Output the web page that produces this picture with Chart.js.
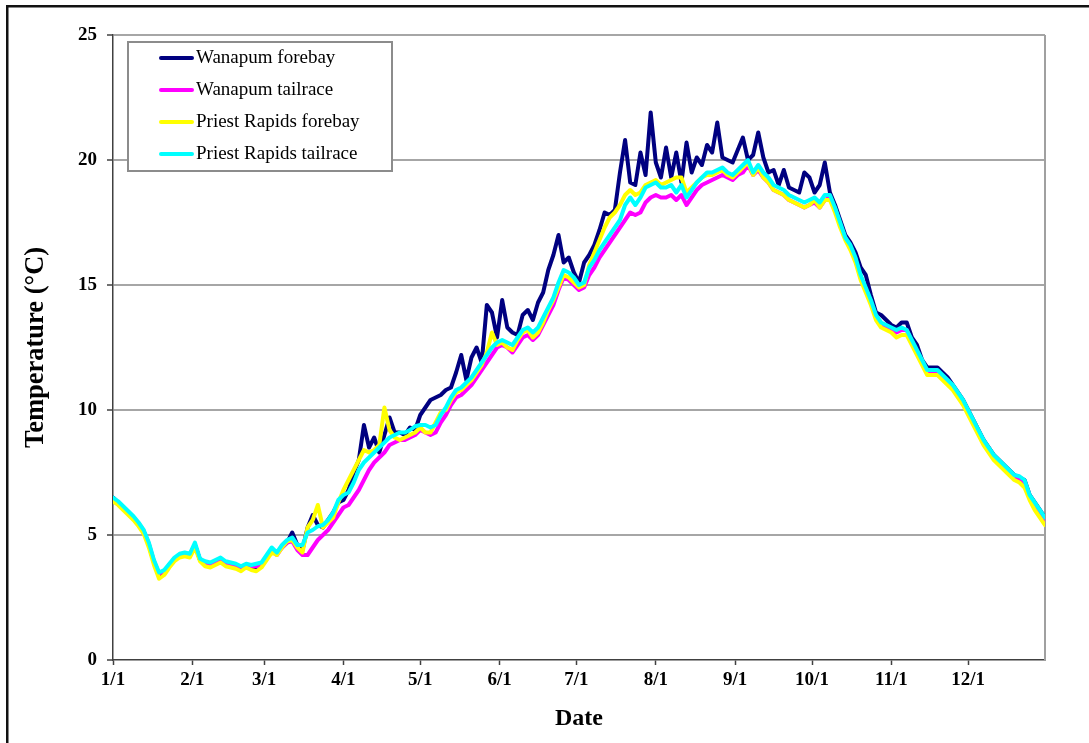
<!DOCTYPE html>
<html>
<head>
<meta charset="utf-8">
<script src="https://cdn.jsdelivr.net/npm/chart.js@4.4.0/dist/chart.umd.min.js"></script>
<style>
  html, body { margin: 0; padding: 0; background: #ffffff; }
  #wrap { position: relative; width: 1089px; height: 743px; }
</style>
</head>
<body>
<div id="wrap"><canvas id="chart" width="1089" height="743"></canvas></div>
<script>
// Daily river temperatures, sampled every second day of the year (day 0 = 1/1).
const DAY_STEP = 2;
const MONTH_START_DAYS = [0, 31, 59, 90, 120, 151, 181, 212, 243, 273, 304, 334];
const MONTH_LABELS = ['1/1', '2/1', '3/1', '4/1', '5/1', '6/1', '7/1', '8/1', '9/1', '10/1', '11/1', '12/1'];
const Y_TICKS = [0, 5, 10, 15, 20, 25];
const SERIES_NAMES = ['Wanapum forebay', 'Wanapum tailrace', 'Priest Rapids forebay', 'Priest Rapids tailrace'];
const SERIES_COLORS = ['#000080', '#ff00ff', '#ffff00', '#00ffff'];

const wanapumForebay = [
  6.5, 6.3, 6.1, 5.9, 5.7, 5.45, 5.15, 4.6, 3.9, 3.35,
  3.5, 3.8, 4.05, 4.2, 4.25, 4.2, 4.6, 4.0, 3.8, 3.75,
  3.9, 4.0, 3.85, 3.8, 3.75, 3.65, 3.8, 3.7, 3.7, 3.8,
  4.1, 4.4, 4.3, 4.5, 4.7, 5.1, 4.6, 4.4, 5.3, 5.8,
  5.4, 5.3, 5.6, 5.9, 6.3, 6.4, 6.8, 7.5, 8.0, 9.4,
  8.5, 8.9, 8.3, 9.0, 9.7, 9.1, 9.1, 9.0, 9.3, 9.2,
  9.8, 10.1, 10.4, 10.5, 10.6, 10.8, 10.9, 11.5, 12.2, 11.2,
  12.1, 12.5, 11.9, 14.2, 13.9, 12.9, 14.4, 13.3, 13.1, 13.0,
  13.8, 14.0, 13.6, 14.3, 14.7, 15.6, 16.2, 17.0, 15.9, 16.1,
  15.5, 15.1, 15.9, 16.2, 16.6, 17.2, 17.9, 17.8, 18.0, 19.5,
  20.8, 19.1, 19.0, 20.3, 19.4, 21.9, 19.9, 19.3, 20.5, 19.3,
  20.3, 19.1, 20.7, 19.5, 20.1, 19.8, 20.6, 20.3, 21.5, 20.1,
  20.0, 19.9, 20.4, 20.9, 20.0, 20.2, 21.1, 20.1, 19.5, 19.6,
  19.0, 19.6, 18.9, 18.8, 18.7, 19.5, 19.3, 18.7, 19.0, 19.9,
  18.7, 18.2, 17.6, 17.0, 16.7, 16.3, 15.7, 15.4, 14.6, 13.9,
  13.8, 13.6, 13.4, 13.3, 13.5, 13.5, 12.9, 12.6, 12.0, 11.7,
  11.7, 11.7, 11.5, 11.3, 11.0, 10.7, 10.4, 10.0, 9.6, 9.2,
  8.8, 8.5, 8.2, 8.0, 7.8, 7.6, 7.4, 7.3, 7.2, 6.6,
  6.3, 6.0, 5.7
];

const wanapumTailrace = [
  6.45, 6.3, 6.1, 5.9, 5.7, 5.45, 5.15, 4.65, 3.95, 3.45,
  3.55, 3.8, 4.05, 4.2, 4.2, 4.2, 4.6, 4.0, 3.85, 3.8,
  3.9, 4.0, 3.85, 3.8, 3.75, 3.65, 3.75, 3.75, 3.75, 3.8,
  4.1, 4.4, 4.2, 4.5, 4.7, 4.75, 4.4, 4.2, 4.2, 4.5,
  4.8, 5.0, 5.2, 5.5, 5.8, 6.1, 6.2, 6.5, 6.8, 7.2,
  7.6, 7.9, 8.1, 8.3, 8.6, 8.7, 8.8, 8.8, 8.9, 9.0,
  9.2, 9.1, 9.0, 9.1, 9.5, 9.8, 10.2, 10.5, 10.6, 10.8,
  11.0, 11.3, 11.6, 11.9, 12.2, 12.5, 12.6, 12.5, 12.3, 12.6,
  12.9, 13.0, 12.8, 13.0, 13.4, 13.8, 14.2, 14.8, 15.3, 15.2,
  15.0, 14.8, 14.9, 15.4, 15.7, 16.1, 16.4, 16.7, 17.0, 17.3,
  17.6, 17.9, 17.8, 17.9, 18.3, 18.5, 18.6, 18.5, 18.5, 18.6,
  18.4, 18.6, 18.2, 18.5, 18.8, 19.0, 19.1, 19.2, 19.3, 19.4,
  19.3, 19.2, 19.4, 19.5, 19.8, 19.4, 19.6, 19.3, 19.1, 18.8,
  18.7, 18.6, 18.4, 18.3, 18.2, 18.1, 18.2, 18.3, 18.1, 18.4,
  18.5, 18.0, 17.4, 16.9, 16.5, 16.0, 15.3, 14.8, 14.3, 13.7,
  13.4, 13.3, 13.2, 13.1, 13.2, 13.2, 12.7, 12.3, 11.9, 11.5,
  11.5, 11.5, 11.3, 11.1, 10.9, 10.6, 10.3, 9.9, 9.5, 9.1,
  8.7, 8.4, 8.1, 7.9, 7.7, 7.5, 7.3, 7.25, 7.1, 6.5,
  6.2, 5.9, 5.6
];

const priestRapidsForebay = [
  6.35, 6.2, 6.0, 5.8, 5.6, 5.35, 5.05, 4.5, 3.8, 3.25,
  3.4, 3.7, 3.95, 4.1, 4.15, 4.1, 4.5, 3.95, 3.75, 3.7,
  3.8, 3.9, 3.75, 3.7, 3.65, 3.55, 3.7, 3.6, 3.55, 3.7,
  4.0, 4.3, 4.2, 4.5, 4.75, 4.8, 4.5, 4.3, 5.3, 5.6,
  6.2, 5.3, 5.5, 5.7, 6.3, 6.8, 7.2, 7.6, 8.0, 8.4,
  8.3, 8.4, 8.6, 10.1, 9.2, 8.9, 8.8, 8.9, 9.0, 9.1,
  9.3, 9.1, 9.1, 9.5, 9.9, 10.0, 10.4, 10.7, 10.8, 11.0,
  11.2, 11.5, 11.8, 12.3, 13.1, 12.6, 12.7, 12.5, 12.4, 12.8,
  13.1, 13.2, 12.9, 13.1, 13.5, 14.0, 14.4, 14.9, 15.4, 15.3,
  15.1, 14.9, 15.0, 15.8, 16.3, 16.8, 17.3, 17.7, 17.9, 18.2,
  18.6, 18.8, 18.6, 18.7, 19.0, 19.1, 19.2, 19.0, 19.1, 19.2,
  19.3, 19.3, 18.7, 18.9, 19.1, 19.3, 19.4, 19.4, 19.5, 19.6,
  19.4, 19.3, 19.5, 19.7, 19.9, 19.4, 19.7, 19.3, 19.1, 18.8,
  18.7, 18.6, 18.4, 18.3, 18.2, 18.1, 18.2, 18.4, 18.1, 18.4,
  18.4, 17.9, 17.3, 16.8, 16.4, 15.9, 15.2, 14.7, 14.2, 13.6,
  13.3, 13.2, 13.1, 12.9, 13.0, 13.0, 12.6, 12.2, 11.8, 11.4,
  11.4, 11.4, 11.2, 11.0, 10.8, 10.5, 10.2, 9.8, 9.4, 9.0,
  8.6, 8.3, 8.0, 7.8, 7.6, 7.4, 7.2, 7.1, 6.9, 6.4,
  6.0, 5.7, 5.4
];

const priestRapidsTailrace = [
  6.5, 6.35, 6.15, 5.95, 5.75, 5.5, 5.2, 4.7, 4.0, 3.5,
  3.6, 3.85, 4.1, 4.25, 4.3, 4.25, 4.7, 4.05, 3.95, 3.9,
  4.0, 4.1, 3.95, 3.9, 3.85, 3.75, 3.85, 3.8, 3.85, 3.9,
  4.2, 4.5, 4.3, 4.6, 4.8, 4.9, 4.6, 4.6, 5.1, 5.2,
  5.35, 5.4, 5.6, 5.9, 6.4, 6.6, 6.7, 7.1, 7.6, 7.9,
  8.1, 8.3, 8.5, 8.7, 8.9, 9.0, 9.1, 9.1, 9.2, 9.35,
  9.4, 9.4, 9.3, 9.4, 9.8, 10.1, 10.5, 10.8, 10.9, 11.1,
  11.3, 11.6, 11.9, 12.2, 12.5, 12.7, 12.8, 12.7, 12.6, 12.9,
  13.2, 13.3, 13.1, 13.3, 13.7, 14.1, 14.5, 15.1, 15.6, 15.5,
  15.3, 15.0, 15.1, 15.7, 16.0, 16.4, 16.7, 17.0, 17.3, 17.6,
  18.2, 18.5, 18.2, 18.5, 18.9, 19.0, 19.1, 18.9, 18.9, 19.0,
  18.7, 19.0, 18.5, 18.8, 19.1, 19.3, 19.5, 19.5, 19.6, 19.7,
  19.5, 19.4, 19.6, 19.8, 20.0, 19.5, 19.8, 19.5, 19.3, 19.0,
  18.9, 18.8, 18.6, 18.5, 18.4, 18.3, 18.4, 18.5, 18.3, 18.6,
  18.6, 18.1, 17.5, 16.9, 16.6, 16.1, 15.4, 14.9, 14.4, 13.8,
  13.5, 13.4, 13.3, 13.2, 13.3, 13.2, 12.8, 12.4, 12.0, 11.6,
  11.6, 11.6, 11.4, 11.2, 11.0, 10.7, 10.4, 10.0, 9.6, 9.2,
  8.8, 8.5, 8.2, 8.0, 7.8, 7.6, 7.4, 7.35, 7.2, 6.6,
  6.3, 6.0, 5.7
];

const SERIES_VALUES = [wanapumForebay, wanapumTailrace, priestRapidsForebay, priestRapidsTailrace];
const days = wanapumForebay.map((_, i) => i * DAY_STEP);

const SERIF = "'Liberation Serif', 'Times New Roman', 'DejaVu Serif', serif";

// Outer frame of the figure (top and left edges).
const figureFrame = {
  id: 'figureFrame',
  beforeDraw(chart) {
    const c = chart.ctx;
    c.save();
    c.fillStyle = '#ffffff';
    c.fillRect(0, 0, chart.width, chart.height);
    c.fillStyle = '#111111';
    c.fillRect(6, 5, chart.width - 6, 2.5);
    c.fillRect(6, 5, 2.5, chart.height - 5);
    c.restore();
  }
};

// Gray right-hand border of the plot area.
const plotBorder = {
  id: 'plotBorder',
  beforeDatasetsDraw(chart) {
    const { ctx: c, chartArea: a } = chart;
    c.save();
    c.strokeStyle = '#a0a0a0';
    c.lineWidth = 2;
    c.beginPath();
    c.moveTo(a.right, a.top);
    c.lineTo(a.right, a.bottom);
    c.stroke();
    c.restore();
  }
};

// Boxed legend in the upper-left corner of the plot area.
const boxedLegend = {
  id: 'boxedLegend',
  afterDatasetsDraw(chart) {
    const { ctx: c, chartArea: a } = chart;
    const left = a.left + 15, top = a.top + 7, w = 264, h = 129;
    c.save();
    c.fillStyle = '#ffffff';
    c.fillRect(left, top, w, h);
    c.strokeStyle = '#8c8c8c';
    c.lineWidth = 2;
    c.strokeRect(left, top, w, h);
    c.font = '19px ' + SERIF;
    c.textBaseline = 'middle';
    c.textAlign = 'left';
    SERIES_NAMES.forEach((name, i) => {
      const y = top + 16 + 32 * i;
      c.strokeStyle = SERIES_COLORS[i];
      c.lineWidth = 4;
      c.lineCap = 'round';
      c.beginPath();
      c.moveTo(left + 33, y);
      c.lineTo(left + 64, y);
      c.stroke();
      c.fillStyle = '#000000';
      c.fillText(name, left + 68, y);
    });
    c.restore();
  }
};

const datasets = SERIES_NAMES.map((name, i) => ({
  label: name,
  data: days.map((d, k) => ({ x: d, y: SERIES_VALUES[i][k] })),
  borderColor: SERIES_COLORS[i],
  backgroundColor: SERIES_COLORS[i],
  borderWidth: 4,
  pointRadius: 0,
  tension: 0,
  borderJoinStyle: 'round',
  borderCapStyle: 'round',
  order: SERIES_NAMES.length - 1 - i
}));

new Chart(document.getElementById('chart'), {
  type: 'line',
  data: { datasets },
  options: {
    responsive: false,
    devicePixelRatio: 1,
    animation: false,
    layout: { padding: { left: 0, top: 35, right: 44, bottom: 0 } },
    plugins: { legend: { display: false }, tooltip: { enabled: false } },
    scales: {
      x: {
        type: 'linear',
        min: 0,
        max: 364,
        afterBuildTicks(scale) { scale.ticks = MONTH_START_DAYS.map(v => ({ value: v })); },
        afterFit(scale) { scale.height = 83; },
        ticks: {
          autoSkip: false,
          maxRotation: 0,
          padding: 4,
          color: '#000000',
          font: { family: SERIF, size: 19, weight: 'bold' },
          callback: (v, idx) => MONTH_LABELS[idx]
        },
        grid: { drawOnChartArea: false, tickLength: 5, tickColor: '#404040', tickWidth: 1.5 },
        border: { color: '#404040', width: 1.5 },
        title: {
          display: true,
          text: 'Date',
          color: '#000000',
          font: { family: SERIF, size: 24, weight: 'bold' },
          padding: { top: 0, bottom: 10 }
        }
      },
      y: {
        min: 0,
        max: 25,
        afterBuildTicks(scale) { scale.ticks = Y_TICKS.map(v => ({ value: v })); },
        afterFit(scale) { scale.width = 113; },
        ticks: {
          padding: 10,
          color: '#000000',
          font: { family: SERIF, size: 19, weight: 'bold' }
        },
        grid: {
          color: (ctx) => (ctx.tick && ctx.tick.value === 0 ? 'rgba(0,0,0,0)' : '#a6a6a6'),
          lineWidth: 2,
          tickLength: 6,
          tickColor: '#404040',
          tickWidth: 1.5
        },
        border: { color: '#404040', width: 1.5 },
        title: {
          display: true,
          text: 'Temperature (°C)',
          color: '#000000',
          font: { family: SERIF, size: 26.5, weight: 'bold' },
          padding: { top: 20, bottom: 0 }
        }
      }
    }
  },
  plugins: [figureFrame, plotBorder, boxedLegend]
});
</script>
</body>
</html>
